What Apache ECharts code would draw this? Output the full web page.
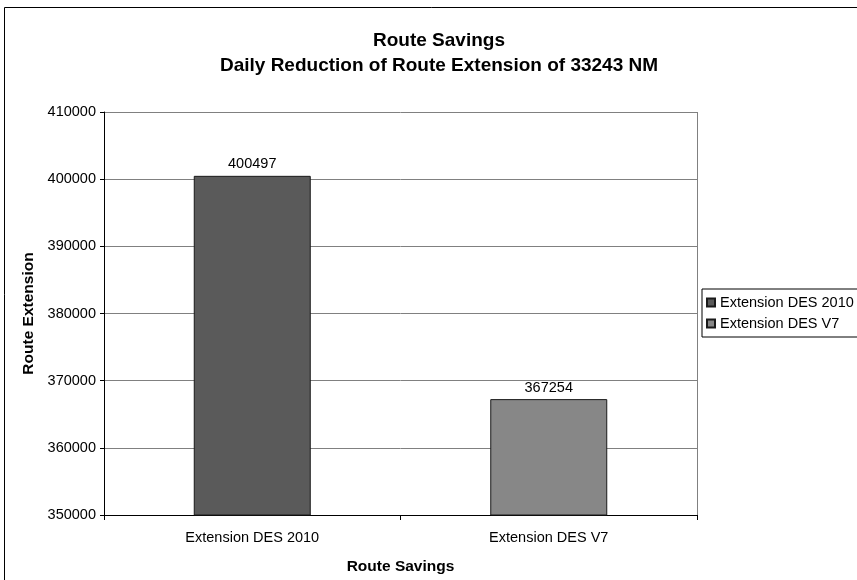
<!DOCTYPE html>
<html><head><meta charset="utf-8">
<script src="https://cdn.jsdelivr.net/npm/echarts@6/dist/echarts.min.js"></script>
<style>html,body{margin:0;padding:0;background:#fff}#c{width:857px;height:580px}</style>
</head><body><div id="c"></div>
<script>
const categories = ['Extension DES 2010', 'Extension DES V7'];
const seriesNames = ['Extension DES 2010', 'Extension DES V7'];
const values = [400497, 367254];
const colors = ['#5a5a5a', '#878787'];
const yTicks = {min: 350000, max: 410000, interval: 10000};

const font = 'Liberation Sans, Arial, sans-serif';
const chart = echarts.init(document.getElementById('c'));
const series = seriesNames.map((name, i) => ({
  name: name,
  type: 'bar',
  stack: 'all',
  barWidth: 117,
  data: categories.map((c, j) => j === i ? values[i] : '-'),
  itemStyle: {color: colors[i], borderColor: '#1a1a1a', borderWidth: 1},
  label: {show: true, position: 'top', distance: 4, color: '#000', fontFamily: font, fontSize: 14.5},
  z: 3
}));
chart.setOption({
  animation: false,
  title: {
    text: 'Route Savings\nDaily Reduction of Route Extension of 33243 NM',
    left: 434, textAlign: 'center', top: 23,
    textStyle: {fontFamily: font, fontSize: 19, fontWeight: 'bold', color: '#000', lineHeight: 25}
  },
  graphic: [
    {type: 'rect', shape: {x: 4.5, y: 7.5, width: 900, height: 700}, style: {fill: null, stroke: '#000', lineWidth: 1}, silent: true},
    {type: 'line', shape: {x1: 697.5, y1: 112, x2: 697.5, y2: 515}, style: {stroke: '#808080', lineWidth: 1}, silent: true}
  ],
  legend: {
    orient: 'vertical', left: 702, top: 289,
    itemWidth: 8, itemHeight: 8, itemGap: 6, icon: 'rect',
    padding: [6, 40, 6, 4],
    borderColor: '#000', borderWidth: 1,
    textStyle: {fontFamily: font, fontSize: 14.5, color: '#000'},
    data: seriesNames
  },
  grid: {left: 104, right: 160, top: 112, bottom: 65, containLabel: false},
  xAxis: {
    type: 'category', data: categories,
    name: 'Route Savings', nameLocation: 'middle', nameGap: 44,
    nameTextStyle: {fontFamily: font, fontSize: 15.5, fontWeight: 'bold', color: '#000'},
    axisLine: {lineStyle: {color: '#000'}},
    axisTick: {show: true, alignWithLabel: false, length: 5, lineStyle: {color: '#000'}},
    axisLabel: {fontFamily: font, fontSize: 14.5, color: '#000', margin: 15}
  },
  yAxis: {
    type: 'value', min: yTicks.min, max: yTicks.max, interval: yTicks.interval,
    name: 'Route Extension', nameLocation: 'middle', nameGap: 64,
    nameTextStyle: {fontFamily: font, fontSize: 15.5, fontWeight: 'bold', color: '#000'},
    axisLine: {show: true, lineStyle: {color: '#000'}},
    axisTick: {show: true, length: 4, lineStyle: {color: '#000'}},
    axisLabel: {fontFamily: font, fontSize: 14.5, color: '#000', margin: 8, formatter: v => String(v)},
    splitLine: {show: true, lineStyle: {color: '#808080', width: 1}}
  },
  series: series
});
</script></body></html>
